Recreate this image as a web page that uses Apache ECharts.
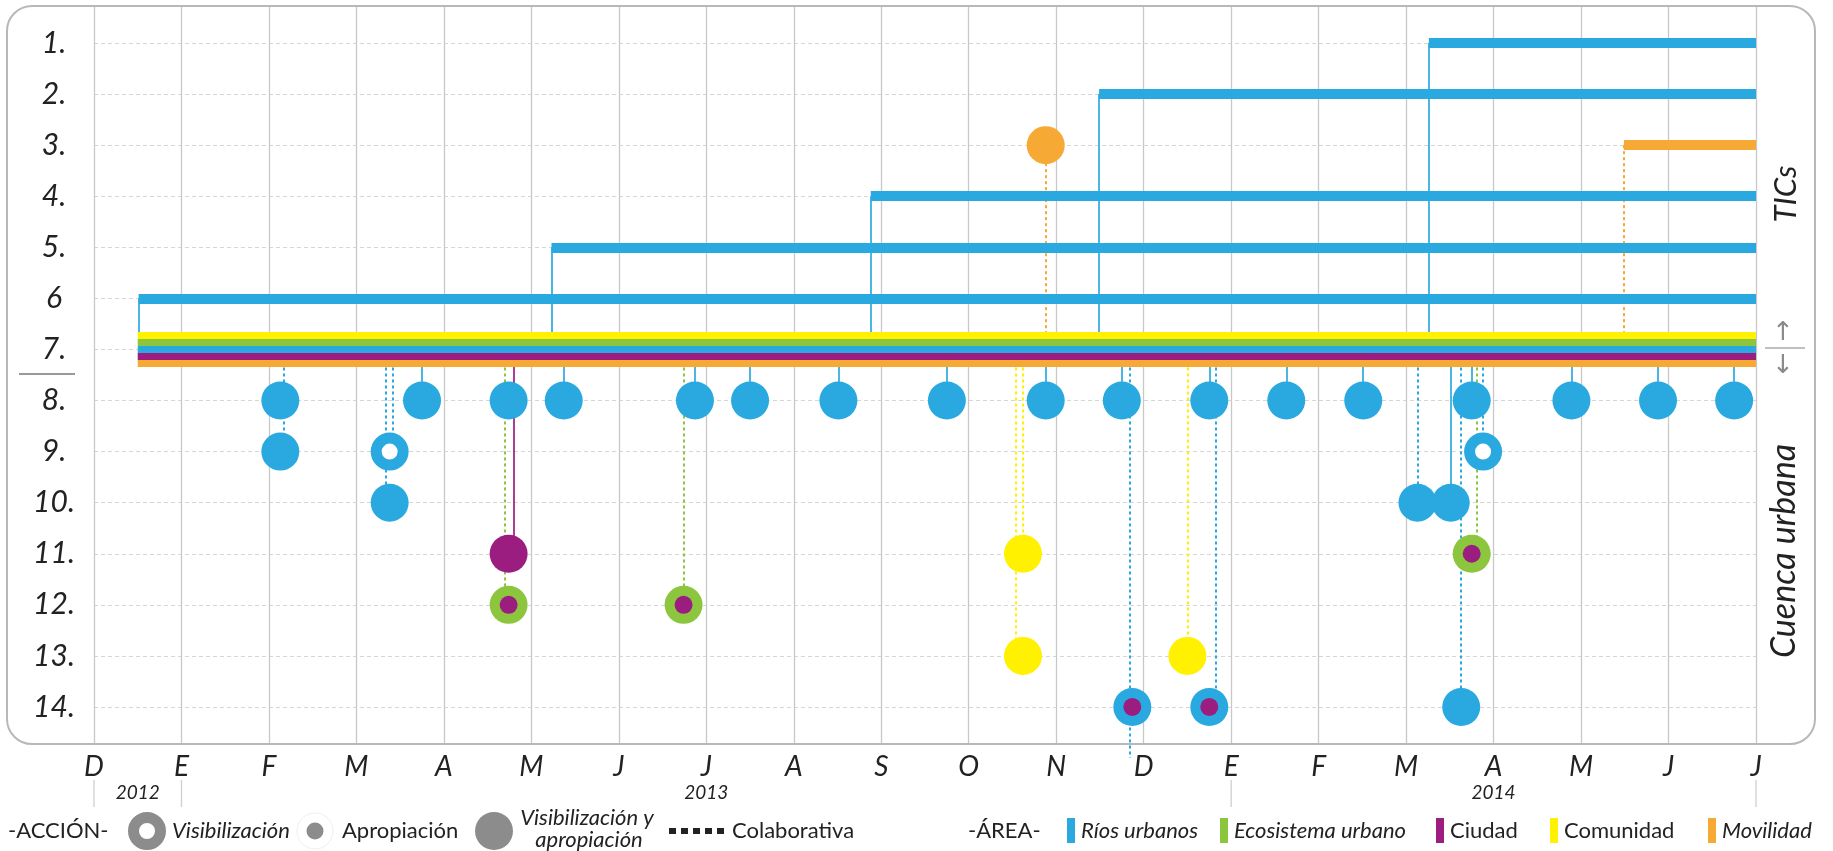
<!DOCTYPE html>
<html><head><meta charset="utf-8">
<script src="https://cdn.jsdelivr.net/npm/echarts@6/dist/echarts.min.js"></script>
<style>html,body{margin:0;padding:0;background:#fff}#c{width:1833px;height:851px}</style>
</head><body><div id="c"></div>
<script>
// ---------- data ----------
const monthLabels = ['D','E','F','M','A','M','J','J','A','S','O','N','D','E','F','M','A','M','J','J'];
const yearLabels = ['2012','2013','2014'];
const yearCenters = [0.5, 7, 16];
const yearBounds = [0, 1, 13, 19];
const rowLabels = ['1.','2.','3.','4.','5.','6','7.','8.','9.','10.','11.','12.','13.','14.'];
const rowValues = [1,2,3,4,5,6,7,8,9,10,11,12,13,14];
const areaColors = {rios:'#29a9e0', eco:'#8cc63f', ciudad:'#9b1d7f', comunidad:'#fff100', movilidad:'#f6a935'};
const areaNames = {rios:'Ríos urbanos', eco:'Ecosistema urbano', ciudad:'Ciudad', comunidad:'Comunidad', movilidad:'Movilidad'};
const bandOrder = ['comunidad','eco','rios','ciudad','movilidad'];
const bandRow = 7;
const bandStart = 0.5;
const endMonth = 19;
// TIC bars: [start month, row, area]
const ticBars = [[15.26,1,'rios'],[11.49,2,'rios'],[17.49,3,'movilidad'],[8.88,4,'rios'],[5.23,5,'rios'],[0.51,6,'rios']];
// Visibilización y apropiación (filled): [month, row, area]
const fullDots = [
  [2.13,8,'rios'],[3.75,8,'rios'],[4.74,8,'rios'],[5.37,8,'rios'],[6.87,8,'rios'],[7.50,8,'rios'],
  [8.51,8,'rios'],[9.75,8,'rios'],[10.88,8,'rios'],[11.75,8,'rios'],[12.75,8,'rios'],[13.63,8,'rios'],
  [14.51,8,'rios'],[15.75,8,'rios'],[16.89,8,'rios'],[17.88,8,'rios'],[18.75,8,'rios'],
  [2.13,9,'rios'],[3.38,10,'rios'],[15.13,10,'rios'],[15.51,10,'rios'],[15.63,14,'rios'],
  [10.88,3,'movilidad'],[4.74,11,'ciudad'],
  [10.62,11,'comunidad'],[10.62,13,'comunidad'],[12.50,13,'comunidad']
];
// Visibilización (ring): [month, row, area]
const ringDots = [[3.38,9,'rios'],[15.88,9,'rios']];
// Visibilización (area) + Apropiación (Ciudad): [month, row, ring area, centre area]
const mixedDots = [[4.74,12,'eco','ciudad'],[6.74,12,'eco','ciudad'],[15.75,11,'eco','ciudad'],[11.87,14,'rios','ciudad'],[12.75,14,'rios','ciudad']];
// connectors: [month, from row, to row, area, colaborativa(1)/not(0)]
const connectors = [
  [15.26,1,7,'rios',0],[11.49,2,7,'rios',0],[8.88,4,7,'rios',0],[5.23,5,7,'rios',0],[0.51,6,7,'rios',0],
  [17.49,3,7,'movilidad',1],[10.88,3,7,'movilidad',1],
  [2.17,7,9,'rios',1],[3.33,7,10,'rios',1],[3.42,7,9,'rios',1],[3.75,7,8,'rios',0],
  [4.70,7,12,'eco',1],[4.80,7,11,'ciudad',0],[5.37,7,8,'rios',0],[6.74,7,12,'eco',1],[6.87,7,8,'rios',0],
  [7.50,7,8,'rios',0],[8.51,7,8,'rios',0],[9.75,7,8,'rios',0],[10.54,7,13,'comunidad',1],[10.62,7,11,'comunidad',1],
  [10.88,7,8,'rios',0],[11.75,7,8,'rios',0],[11.84,7,15,'rios',1],[12.50,7,13,'comunidad',1],[12.75,7,8,'rios',0],
  [12.82,7,14,'rios',1],[13.63,7,8,'rios',0],[14.51,7,8,'rios',0],[15.13,7,10,'rios',1],[15.51,7,10,'rios',0],
  [15.63,7,14,'rios',1],[15.75,7,8,'rios',0],[15.81,7,11,'eco',1],[15.88,7,9,'rios',1],
  [16.89,7,8,'rios',0],[17.88,7,8,'rios',0],[18.75,7,8,'rios',0]
];

// ---------- chart ----------
const FONT = 'Lato, "Open Sans", sans-serif';
const ROW_MIN = 0.275, ROW_MAX = 14.725;
const chart = echarts.init(document.getElementById('c'));

const bandStep = 0.137;
const bandData = bandOrder.map((a,i)=>{
  const r = bandRow + (i - (bandOrder.length-1)/2) * bandStep;
  return {coords:[[bandStart,r],[endMonth,r]], lineStyle:{color:areaColors[a],opacity:1}};
});
const barData = ticBars.map(b=>({coords:[[b[0],b[1]],[endMonth,b[1]]], lineStyle:{color:areaColors[b[2]],opacity:1}}));
const connData = connectors.map(c=>({coords:[[c[0],c[1]],[c[0],c[2]]],
  lineStyle:{color:areaColors[c[3]], type: c[4] ? [3,3] : 'solid', width: 2, opacity: c[4]?1:0.85}}));

chart.setOption({
  animation:false,
  grid:{left:94,right:77,top:6,bottom:107},
  xAxis:{type:'value',min:0,max:19,interval:1,
    axisLine:{show:false},axisTick:{show:false},
    axisLabel:{formatter:v=>monthLabels[Math.round(v)]||'',fontSize:28,fontStyle:'italic',fontFamily:FONT,color:'#222',margin:9},
    splitLine:{show:true,lineStyle:{color:'#c8c8c8',width:1.3}}},
  yAxis:{type:'value',inverse:true,min:ROW_MIN,max:ROW_MAX,
    axisLine:{show:false},
    axisTick:{show:false,customValues:rowValues},
    axisLabel:{customValues:rowValues,formatter:v=>rowLabels[Math.round(v)-1]||'',fontSize:30,fontStyle:'italic',fontFamily:FONT,color:'#222',align:'center',margin:40},
    splitLine:{show:true,lineStyle:{color:'#d6d6d6',type:[4,3],width:1}}},
  series:[
    {type:'lines',coordinateSystem:'cartesian2d',z:2,clip:false,silent:true,data:connData},
    {type:'lines',coordinateSystem:'cartesian2d',z:3,silent:true,lineStyle:{width:10,cap:'butt',opacity:1},data:barData},
    {type:'lines',coordinateSystem:'cartesian2d',z:4,silent:true,lineStyle:{width:7,cap:'butt',opacity:1},data:bandData},
    {type:'scatter',z:5,symbol:'circle',symbolSize:38,silent:true,itemStyle:{opacity:1},
      data:fullDots.map(d=>({value:[d[0],d[1]],itemStyle:{color:areaColors[d[2]],opacity:1}}))},
    {type:'scatter',z:5,symbol:'circle',symbolSize:38,silent:true,itemStyle:{opacity:1},
      data:mixedDots.map(d=>({value:[d[0],d[1]],itemStyle:{color:areaColors[d[2]],opacity:1}}))},
    {type:'scatter',z:6,symbol:'circle',symbolSize:18,silent:true,itemStyle:{opacity:1},
      data:mixedDots.map(d=>({value:[d[0],d[1]],itemStyle:{color:areaColors[d[3]],opacity:1}}))},
    {type:'scatter',z:5,symbol:'circle',symbolSize:27,silent:true,itemStyle:{opacity:1},
      data:ringDots.map(d=>({value:[d[0],d[1]],itemStyle:{color:'#fff',borderColor:areaColors[d[2]],borderWidth:11,opacity:1}}))}
  ]
});

// ---------- decorations ----------
const g = [];
const bottomY = chart.convertToPixel({gridIndex:0},[0,ROW_MAX])[1];
g.push({type:'rect',silent:true,z:1,shape:{x:7,y:6,width:1808,height:bottomY-6,r:25},style:{fill:null,stroke:'#b8b8b8',lineWidth:2}});
yearBounds.forEach(m=>{
  const x = chart.convertToPixel({gridIndex:0},[m,ROW_MAX])[0];
  g.push({type:'line',silent:true,shape:{x1:x,y1:bottomY+36,x2:x,y2:bottomY+63},style:{stroke:'#cfcfcf',lineWidth:1.3}});
});
yearLabels.forEach((t,i)=>{
  const x = chart.convertToPixel({gridIndex:0},[yearCenters[i],ROW_MAX])[0];
  g.push({type:'text',silent:true,x:x,y:bottomY+49,style:{text:t,fontSize:19,fontStyle:'italic',fontFamily:FONT,fill:'#222',align:'center',verticalAlign:'middle'}});
});
// side titles
g.push({type:'text',silent:true,x:1786,y:194,rotation:Math.PI/2,style:{text:'TICs',fontSize:31,fontStyle:'italic',fontFamily:FONT,fill:'#222',align:'center',verticalAlign:'middle'}});
g.push({type:'text',silent:true,x:1784,y:551,rotation:Math.PI/2,style:{text:'Cuenca urbana',fontSize:34,fontStyle:'italic',fontFamily:FONT,fill:'#222',align:'center',verticalAlign:'middle'}});
g.push({type:'text',silent:true,x:1783,y:333,style:{text:'↑',fontSize:26,fontFamily:'DejaVu Sans',fill:'#8a8a8a',align:'center',verticalAlign:'middle'}});
g.push({type:'text',silent:true,x:1783,y:366,style:{text:'↓',fontSize:26,fontFamily:'DejaVu Sans',fill:'#8a8a8a',align:'center',verticalAlign:'middle'}});
g.push({type:'line',silent:true,shape:{x1:1765,y1:348,x2:1805,y2:348},style:{stroke:'#aaa',lineWidth:1.5}});
g.push({type:'line',silent:true,shape:{x1:19,y1:374,x2:75,y2:374},style:{stroke:'#999',lineWidth:2}});
// legend
const LY = 831;
const FS = 22;
const txt = (x,t,italic,align)=>({type:'text',silent:true,x:x,y:LY,style:{text:t,fontSize:FS,fontStyle:italic?'italic':'normal',fontFamily:FONT,fill:'#222',align:align||'left',verticalAlign:'middle'}});
g.push(txt(8,'-ACCIÓN-',false));
g.push({type:'circle',silent:true,shape:{cx:147,cy:LY,r:13.5},style:{fill:'#fff',stroke:'#8c8c8c',lineWidth:11}});
g.push(txt(172,'Visibilización',true));
g.push({type:'circle',silent:true,shape:{cx:315,cy:LY,r:18},style:{fill:'#fff',stroke:'#eeeeee',lineWidth:1}});
g.push({type:'circle',silent:true,shape:{cx:315,cy:LY,r:8.5},style:{fill:'#8c8c8c'}});
g.push(txt(342,'Apropiación',false));
g.push({type:'circle',silent:true,shape:{cx:494,cy:LY,r:19},style:{fill:'#8c8c8c'}});
g.push({type:'text',silent:true,x:587,y:LY-13,style:{text:'Visibilización y',fontSize:FS,fontStyle:'italic',fontFamily:FONT,fill:'#222',align:'center',verticalAlign:'middle'}});
g.push({type:'text',silent:true,x:589,y:LY+9,style:{text:'apropiación',fontSize:FS,fontStyle:'italic',fontFamily:FONT,fill:'#222',align:'center',verticalAlign:'middle'}});
g.push({type:'line',silent:true,shape:{x1:669,y1:LY,x2:727,y2:LY},style:{stroke:'#222',lineWidth:6,lineDash:[7,5]}});
g.push(txt(732,'Colaborativa',false));
g.push(txt(968,'-ÁREA-',false));
const legAreas = [['rios',1067,true],['eco',1220,true],['ciudad',1436,false],['comunidad',1550,false],['movilidad',1708,true]];
legAreas.forEach(([a,x,it])=>{
  g.push({type:'rect',silent:true,shape:{x:x,y:LY-13,width:8,height:25},style:{fill:areaColors[a]}});
  g.push(txt(x+14,areaNames[a],it));
});
chart.setOption({graphic:g});
</script></body></html>
